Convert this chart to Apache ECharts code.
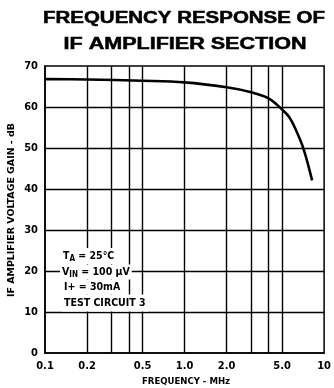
<!DOCTYPE html>
<html><head><meta charset="utf-8">
<script src="https://cdn.jsdelivr.net/npm/echarts@6/dist/echarts.min.js"></script>
<style>html,body{margin:0;padding:0;background:#fff}#c{width:334px;height:388px}</style>
</head><body><div id="c"></div>
<script>
// Data
const freqMHz = [0.1, 0.2, 0.5, 1.0, 2.0, 3.0, 4.0, 5.0, 5.6, 6.2, 7.1, 8.2];
const gainDB  = [66.8, 66.7, 66.4, 66.0, 64.8, 63.6, 62.1, 59.4, 57.6, 54.8, 49.9, 42.1];
const xGridValues = [0.2, 0.3, 0.4, 0.5, 1, 2, 3, 4, 5];
const yGridValues = [10, 20, 30, 40, 50, 60];
const xTickValues = [0.1, 0.2, 0.5, 1, 2, 5, 10];
const xTickLabels = ['0.1', '0.2', '0.5', '1.0', '2.0', '5.0', '10'];
const titleLines = ['FREQUENCY RESPONSE OF', 'IF AMPLIFIER SECTION'];
const yName = 'IF AMPLIFIER VOLTAGE GAIN - dB';
const xName = 'FREQUENCY - MHz';

const COND = '"DejaVu Sans Condensed", "Liberation Sans Narrow", sans-serif';
const TITLEF = '"Liberation Sans", Arial, sans-serif';

function measure(text, font) {
  const c = document.createElement('canvas').getContext('2d');
  c.font = font; return c.measureText(text).width;
}
const t1Font = 'bold 16px ' + TITLEF;
const s1 = 282 / measure(titleLines[0], t1Font);
const s2 = 243 / measure(titleLines[1], t1Font);
const yNameFont = 'bold 9.5px ' + COND;
const sy = 174 / measure(yName, yNameFont);

const chart = echarts.init(document.getElementById('c'), null, {renderer: 'canvas'});
const pairs = freqMHz.map((f, i) => [f, gainDB[i]]);

chart.setOption({
  animation: false,
  backgroundColor: '#fff',
  grid: {left: 45, right: 1, top: 66, bottom: 35, show: true, borderColor: '#000', borderWidth: 1.5, backgroundColor: 'transparent'},
  xAxis: {
    type: 'log', logBase: 10, min: 0.1, max: 10,
    axisLine: {show: true, lineStyle: {color: '#000', width: 1.5}},
    axisTick: {show: false},
    splitLine: {show: false},
    minorSplitLine: {show: false},
    axisLabel: {
      show: true, customValues: xTickValues, margin: 8, alignMaxLabel: 'center', hideOverlap: false,
      color: '#000', fontFamily: COND, fontWeight: 'bold', fontSize: 11,
      formatter: v => { const i = xTickValues.findIndex(t => Math.abs(t - v) < 1e-6); return i >= 0 ? xTickLabels[i] : ''; }
    }
  },
  yAxis: {
    type: 'value', min: 0, max: 70, interval: 10,
    axisLine: {show: true, lineStyle: {color: '#000', width: 1.5}},
    axisTick: {show: false},
    splitLine: {show: false},
    axisLabel: {color: '#000', fontFamily: COND, fontWeight: 'bold', fontSize: 11, margin: 7}
  },
  series: [{
    type: 'line', data: pairs, smooth: 0.35, symbol: 'none',
    lineStyle: {color: '#000', width: 2.6}, z: 5,
    markLine: {
      silent: true, symbol: 'none', label: {show: false},
      lineStyle: {color: '#000', width: 1.4, type: 'solid'},
      data: xGridValues.map(v => ({xAxis: v})).concat(yGridValues.map(v => ({yAxis: v}))),
      z: 1
    }
  }],
  graphic: [
    {type: 'text', x: 184, y: 19, scaleX: s1, z: 10, style: {text: titleLines[0], font: t1Font, fill: '#000', stroke: '#000', lineWidth: 0.5, textAlign: 'center', textVerticalAlign: 'middle'}},
    {type: 'text', x: 185, y: 45, scaleX: s2, z: 10, style: {text: titleLines[1], font: t1Font, fill: '#000', stroke: '#000', lineWidth: 0.5, textAlign: 'center', textVerticalAlign: 'middle'}},
    {type: 'text', x: 12, y: 210, rotation: Math.PI / 2, scaleX: sy, z: 10, style: {text: yName, font: yNameFont, fill: '#000', textAlign: 'center', textVerticalAlign: 'middle'}},
    {type: 'text', x: 186, y: 382, z: 10, style: {text: xName, font: 'bold 9.5px ' + COND, fill: '#000', textAlign: 'center', textVerticalAlign: 'middle'}},
    {type: 'text', x: 61, y: 256, z: 20, style: {
      text: 'T{s|A} = 25°C', fill: '#000', font: 'bold 10.5px ' + COND, textVerticalAlign: 'middle',
      backgroundColor: '#fff', padding: [2, 2, 1, 2],
      rich: {s: {fontSize: 8, fontFamily: COND, fontWeight: 'bold', verticalAlign: 'bottom', padding: [5, 0, 0, 0]}}
    }},
    {type: 'text', x: 60, y: 272, z: 20, style: {
      text: 'V{s|IN} = 100 µV', fill: '#000', font: 'bold 10.5px ' + COND, textVerticalAlign: 'middle',
      backgroundColor: '#fff', padding: [1, 2, 1, 2],
      rich: {s: {fontSize: 8, fontFamily: COND, fontWeight: 'bold', padding: [5, 0, 0, 0]}}
    }},
    {type: 'text', x: 62, y: 287, z: 20, style: {
      text: 'I+ = 30mA', fill: '#000', font: 'bold 10.5px ' + COND, textVerticalAlign: 'middle',
      backgroundColor: '#fff', padding: [2, 2, 2, 2]
    }},
    {type: 'text', x: 62, y: 303, z: 20, style: {
      text: 'TEST CIRCUIT 3', fill: '#000', font: 'bold 10.5px ' + COND, textVerticalAlign: 'middle',
      backgroundColor: '#fff', padding: [3, 2, 3, 2]
    }}
  ]
});
</script></body></html>
